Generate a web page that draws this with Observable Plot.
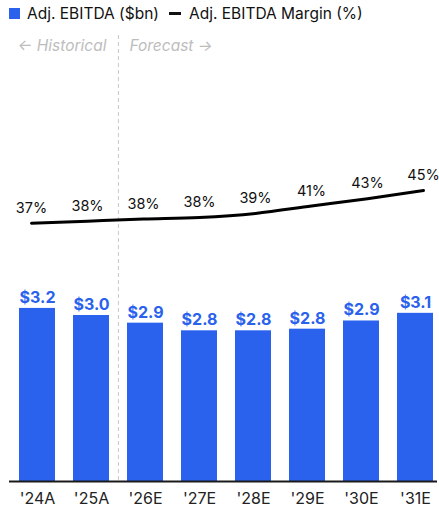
<!DOCTYPE html>
<html>
<head>
<meta charset="utf-8">
<script src="https://cdn.jsdelivr.net/npm/d3@7"></script>
<script src="https://cdn.jsdelivr.net/npm/@observablehq/plot@0.6"></script>
<style>
  html, body { margin: 0; padding: 0; background: #fff; }
  #wrap { position: relative; width: 439px; height: 510px; font-family: Inter, sans-serif; }
  #wrap svg { position: absolute; left: 0; top: 0; }
  #legend { position: absolute; left: 9px; top: 4px; display: flex; align-items: center; font-size: 15.5px; color: #111; white-space: nowrap; }
  .sw { display: inline-block; width: 11px; height: 11px; background: #2A62EE; margin-right: 7px; }
  .dash { display: inline-block; width: 12px; height: 3.5px; background: #111; margin: 0 8px 0 10px; }
</style>
</head>
<body>
<div id="wrap">
  <div id="legend"><span class="sw"></span><span>Adj. EBITDA ($bn)</span><span class="dash"></span><span>Adj. EBITDA Margin (%)</span></div>
</div>
<script>
const years = ["'24A", "'25A", "'26E", "'27E", "'28E", "'29E", "'30E", "'31E"];
const ebitda = [3.17, 3.04, 2.90, 2.76, 2.76, 2.79, 2.94, 3.08];
const margin = [37.0, 37.5, 38.0, 38.4, 39.4, 41.2, 43.0, 45.0];
const phaseLabels = ["← Historical", "Forecast →"];
const firstForecast = "'26E";

const blue = "#2A62EE";
const bars = years.map((y, i) => ({year: y, value: ebitda[i]}));
const line = years.map((y, i) => ({year: y, value: margin[i]}));

const pInner = 0.335, pOuter = 0.1675;
const xRange = [9.2, 442.4];
const step = (xRange[1] - xRange[0]) / (years.length - pInner + 2 * pOuter);

const main = Plot.plot({
  width: 439,
  height: 510,
  marginTop: 35,
  marginBottom: 29,
  marginLeft: 9,
  marginRight: 2,
  style: {fontFamily: "Inter, sans-serif", fontSize: "16px", color: "#222", background: "transparent"},
  x: {domain: years, range: xRange, paddingInner: pInner, paddingOuter: pOuter, label: null},
  y: {domain: [0, 4], range: [481, 262.6], axis: null},
  marks: [
    Plot.ruleX([firstForecast], {dx: -step / 2, stroke: "#c8c8c8", strokeWidth: 1, strokeDasharray: "4,3"}),
    Plot.text([phaseLabels[0]], {x: () => firstForecast, frameAnchor: "top", dx: -step / 2 - 12, dy: 15, lineAnchor: "bottom", textAnchor: "end", fill: "#bdbdbd", fontStyle: "italic", fontSize: 15.5}),
    Plot.text([phaseLabels[1]], {x: () => firstForecast, frameAnchor: "top", dx: -step / 2 + 11, dy: 15, lineAnchor: "bottom", textAnchor: "start", fill: "#bdbdbd", fontStyle: "italic", fontSize: 15.5}),
    Plot.barY(bars, {x: "year", y: "value", fill: blue}),
    Plot.text(bars, {x: "year", y: "value", text: d => "$" + d.value.toFixed(1), dy: -5.5, lineAnchor: "bottom", fill: blue, fontWeight: "bold", fontSize: 16}),
    Plot.ruleY([0], {stroke: "#1a1a1a", strokeWidth: 2}),
    Plot.axisX({tickSize: 0, tickPadding: 11.5, fontSize: 16, fill: "#222", label: null})
  ]
});

const overlay = Plot.plot({
  width: 439,
  height: 510,
  style: {fontFamily: "Inter, sans-serif", fontSize: "16px", background: "transparent"},
  x: {type: "point", domain: years, range: [31, 423], padding: 0, axis: null},
  y: {domain: [37, 45], range: [222.7, 190], axis: null},
  marks: [
    Plot.line(line, {x: "year", y: "value", stroke: "#000", strokeWidth: 3, curve: "monotone-x"}),
    Plot.text(line, {x: "year", y: "value", text: d => Math.round(d.value) + "%", dy: -15, lineAnchor: "middle", fill: "#111", fontSize: 14.5})
  ]
});

const wrap = document.getElementById("wrap");
wrap.insertBefore(main, wrap.firstChild);
wrap.insertBefore(overlay, main.nextSibling);
</script>
</body>
</html>
